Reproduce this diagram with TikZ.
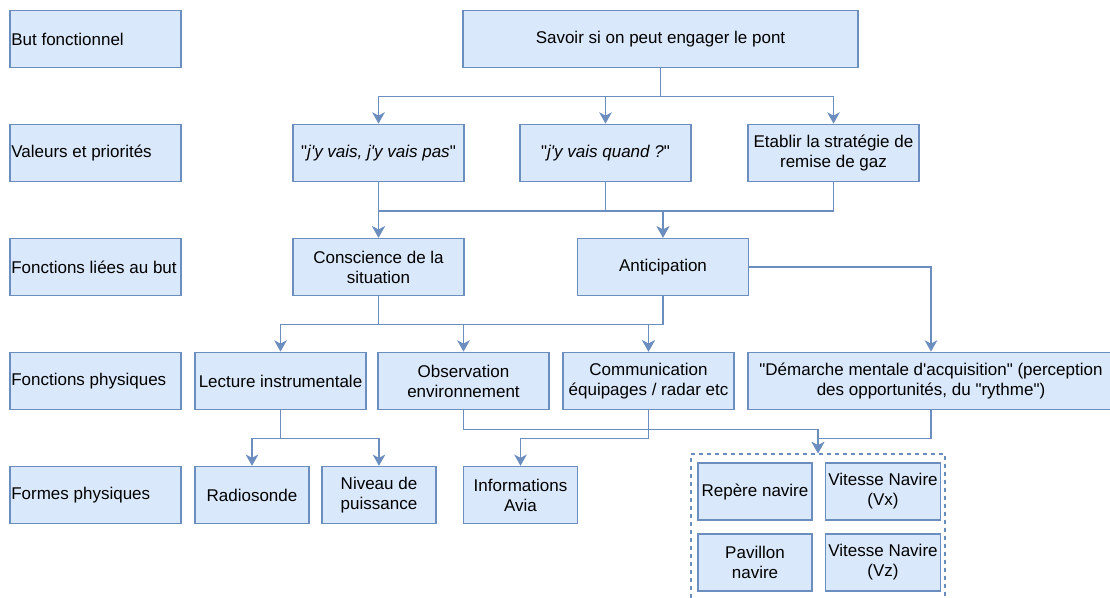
\documentclass[tikz,border=0pt]{standalone}
\usepackage{fontspec}
\setmainfont{Liberation Sans}[Ligatures=TeXOff]
\usepackage{xcolor}
\usetikzlibrary{arrows.meta, positioning}

\definecolor{fillblue}{HTML}{DAE8FC}
\definecolor{lineblue}{HTML}{6C8EBF}

\begin{document}
\begin{tikzpicture}[
    x=0.75pt, y=-0.75pt,
    node distance=41.4pt,
    box/.style={rectangle, draw=lineblue, fill=fillblue, line width=1pt, align=center, minimum width=128.25pt, minimum height=43.1pt, inner sep=2pt, font=\fontsize{12.75pt}{15pt}\selectfont},
    rowlabel/.style={box, align=flush left, text width=126.3pt, inner xsep=0.95pt},
    small/.style={box, minimum width=85.5pt, minimum height=42.75pt},
    group/.style={rectangle, draw=lineblue, line width=1.1pt, dash pattern=on 3pt off 3pt, minimum width=190.5pt, minimum height=114pt},
    arrow/.style={draw=lineblue, line width=1.15pt, -{Stealth[length=8.5pt, width=9.5pt, inset=2.5pt]}}
]
\useasboundingbox (0,0) rectangle (1110,597);
\clip (0,0) rectangle (1110,597);

% Row labels
\node[rowlabel] (butfonc) at (95.5,39) {But fonctionnel};
\node[rowlabel, below=of butfonc] (valeurs) {Valeurs et priorités};
\node[rowlabel, below=of valeurs] (fonclies) {Fonctions liées au but};
\node[rowlabel, below=of fonclies] (foncphys) {Fonctions physiques};
\node[rowlabel, below=of foncphys] (formes) {Formes physiques};

% Goal
\node[box, minimum width=296.25pt] (savoir) at (660.5,39) {Savoir si on peut engager le pont};

% Values
\node[box] (jyvais) at (378.5,153) {"\textit{j'y vais, j'y vais pas}"};
\node[box] (quand) at (605.5,153) {"\textit{j'y vais quand ?}"};
\node[box] (etablir) at (833.5,153) {Etablir la stratégie de\\remise de gaz};

% Goal functions
\node[box] (conscience) at (378.5,267) {Conscience de la\\situation};
\node[box] (anticip) at (663,267) {Anticipation};

% Physical functions
\node[box] (lecture) at (280.5,381) {Lecture instrumentale};
\node[box] (observ) at (463.5,381) {Observation\\environnement};
\node[box] (comm) at (648.5,381) {Communication\\équipages / radar etc};
\node[box, minimum width=274.5pt] (demarche) at (931,381) {"Démarche mentale d'acquisition" (perception\\des opportunités, du "rythme")};

% Physical forms
\node[small] (radio) at (252,495) {Radiosonde};
\node[small] (niveau) at (379,495) {Niveau de\\puissance};
\node[small] (infos) at (520.5,495) {Informations\\Avia};
\node[group] (navire) at (818,530) {};
\node[small] (repere) at (755,491.5) {Repère navire};
\node[small] (vx) at (883,491.5) {Vitesse Navire\\(Vx)};
\node[small] (pavillon) at (755,562.5) {Pavillon\\navire};
\node[small] (vz) at (883,562.5) {Vitesse Navire\\(Vz)};

% Arrows
\draw[arrow] (savoir.south) -- ++(0,28) -| (jyvais.north);
\draw[arrow] (savoir.south) -- ++(0,28) -| (quand.north);
\draw[arrow] (savoir.south) -- ++(0,28) -| (etablir.north);
\draw[arrow] (jyvais) -- (conscience);
\draw[arrow] (quand.south) -- ++(0,28.5) -| (conscience.north);
\draw[arrow] (quand.south) -- ++(0,28.5) -| (anticip.north);
\draw[arrow] (etablir.south) -- ++(0,28.5) -| (anticip.north);
\draw[arrow] (conscience.south) -- ++(0,28) -| (lecture.north);
\draw[arrow] (conscience.south) -- ++(0,28) -| (observ.north);
\draw[arrow] (conscience.south) -- ++(0,28) -| (comm.north);
\draw[arrow] (anticip.south) -- ++(0,28) -| (comm.north);
\draw[arrow] (anticip.east) -| (demarche.north);
\draw[arrow] (lecture.south) -- ++(0,28) -| (radio.north);
\draw[arrow] (lecture.south) -- ++(0,28) -| (niveau.north);
\draw[arrow] (observ.south) -- ++(0,19) -| (navire.north);
\draw[arrow] (comm.south) -- ++(0,28) -| (infos.north);
\draw[arrow] (demarche.south) -- ++(0,28) -| (navire.north);

\end{tikzpicture}
\end{document}
